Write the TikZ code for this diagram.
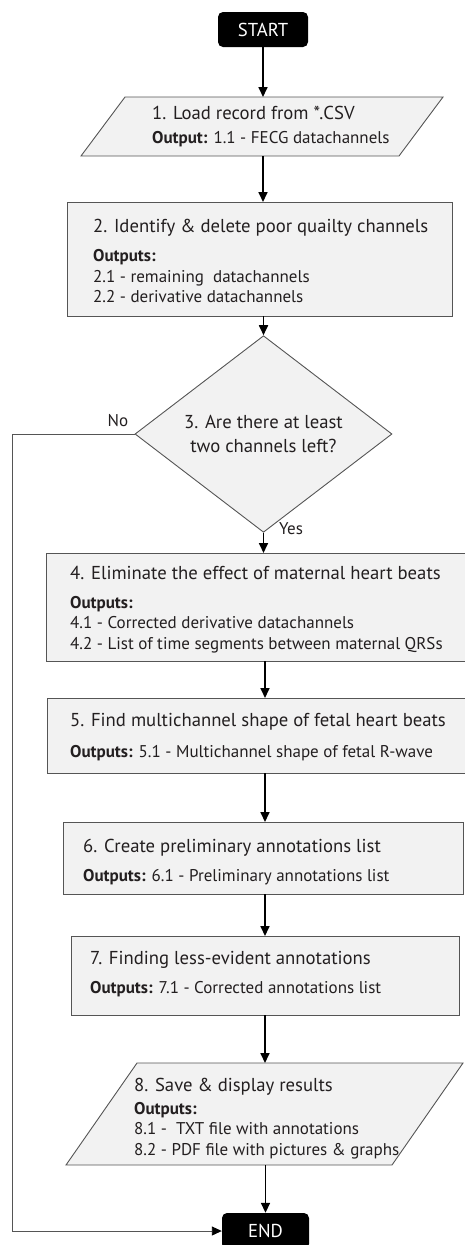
\documentclass[tikz,border=0pt]{standalone}
\usepackage{fontspec}
\setmainfont{PT Sans}
\usetikzlibrary{shapes.geometric,arrows.meta}
\definecolor{boxfill}{RGB}{242,242,242}
\definecolor{edgegray}{RGB}{85,85,85}
\definecolor{ink}{RGB}{35,31,32}
\newcommand{\ttlfont}{\fontsize{18.7}{20.5}\selectfont}
\newcommand{\bdyfont}{\fontsize{17}{20.5}\selectfont}
\begin{document}
\begin{tikzpicture}[x=1pt,y=-1pt,
  procbox/.style={draw=edgegray, line width=0.9pt, fill=boxfill, rectangle, inner sep=0pt, outer sep=0pt},
  ioframe/.style={draw=none, rectangle, inner sep=0pt, outer sep=0pt},
  iopath/.style={draw=edgegray, line width=0.9pt, fill=boxfill},
  txt/.style={align=left, inner sep=0pt, text=ink, font=\bdyfont, anchor=west},
  term/.style={fill=black, rounded corners=5pt, text=white, font=\ttlfont, inner sep=0pt},
  decision/.style={diamond, draw=edgegray, line width=0.9pt, fill=boxfill, inner sep=0pt, align=center, text=ink, font=\ttlfont},
  arr/.style={line width=1.7pt, -{Triangle[width=9pt,length=10pt]}},
  noarr/.style={draw=edgegray, line width=0.9pt, -{Triangle[width=9pt,length=10pt,color=black]}},
  lbl/.style={text=ink, font=\bdyfont, inner sep=0pt}
]
\useasboundingbox (0,0) rectangle (464,1245);

% START
\node[term, minimum width=90pt, minimum height=35pt] (start) at (263,29.5) {START};

% 1. parallelogram
\node[ioframe, minimum width=318pt, minimum height=59pt] (p1) at (262,126.5) {};
\draw[iopath] ([xshift=22pt]p1.north west) -- ([xshift=22pt]p1.north east)
  -- ([xshift=-22pt]p1.south east) -- ([xshift=-22pt]p1.south west) -- cycle;
\node[txt] (t1) at ([xshift=49pt,yshift=0pt]p1.west)
  {{\ttlfont 1. Load record from *.CSV}\\[3.5pt]\textbf{Output:} 1.1 - FECG datachannels};

% 2.
\node[procbox, minimum width=385pt, minimum height=114pt] (b2) at (259.5,259) {};
\node[txt] (t2) at ([xshift=26pt,yshift=-2pt]b2.west)
  {{\ttlfont 2. Identify \& delete poor quailty channels}\\[8.5pt]\textbf{Outputs:}\\2.1 - remaining\ \ datachannels\\2.2 - derivative datachannels};

% 3. decision
\node[decision, minimum width=257pt, minimum height=172pt] (d) at (263.5,434)
  {3. Are there at least\\[4pt]two channels left?};

% 4.
\node[procbox, minimum width=426pt, minimum height=108pt] (b4) at (259,607) {};
\node[txt] (t4) at ([xshift=24pt,yshift=-2.5pt]b4.west)
  {{\ttlfont 4. Eliminate the effect of maternal heart beats}\\[8.5pt]\textbf{Outputs:}\\4.1 - Corrected derivative datachannels\\4.2 - List of time segments between maternal QRSs};

% 5.
\node[procbox, minimum width=425pt, minimum height=75pt] (b5) at (259.5,735.5) {};
\node[txt] (t5) at ([xshift=23pt,yshift=-2pt]b5.west)
  {{\ttlfont 5. Find multichannel shape of fetal heart beats}\\[10.5pt]\textbf{Outputs:} 5.1 - Multichannel shape of fetal R-wave};

% 6.
\node[procbox, minimum width=400pt, minimum height=72pt] (b6) at (263,858) {};
\node[txt] (t6) at ([xshift=20pt,yshift=-4.5pt]b6.west)
  {{\ttlfont 6. Create preliminary annotations list}\\[8.5pt]\textbf{Outputs:} 6.1 - Preliminary annotations list};

% 7.
\node[procbox, minimum width=388pt, minimum height=79pt] (b7) at (265,975.5) {};
\node[txt] (t7) at ([xshift=19pt,yshift=1pt]b7.west)
  {{\ttlfont 7. Finding less-evident annotations}\\[8.5pt]\textbf{Outputs:} 7.1 - Corrected annotations list};

% 8. parallelogram
\node[ioframe, minimum width=326pt, minimum height=102pt] (p8) at (264.5,1114) {};
\draw[iopath] ([xshift=35.5pt]p8.north west) -- ([xshift=35.5pt]p8.north east)
  -- ([xshift=-35.5pt]p8.south east) -- ([xshift=-35.5pt]p8.south west) -- cycle;
\node[txt] (t8) at ([xshift=32.5pt,yshift=-4.5pt]p8.west)
  {{\ttlfont 8. Save \& display results}\\[2.5pt]\textbf{Outputs:}\\8.1 -\ \ TXT file with annotations\\8.2 - PDF file with pictures \& graphs};

% END
\node[term, minimum width=87pt, minimum height=36pt] (endn) at (265.5,1231) {END};

% labels
\node[lbl] (nolbl) at (118,421) {No};
\node[lbl] (yeslbl) at (291,529) {Yes};

% connectors
\draw[arr] (start.south) -- (start.south |- p1.north);
\draw[arr] (p1.south -| start) -- (b2.north -| start);
\draw[arr] (b2.south -| d) -- (d.north);
\draw[arr] (d.south) -- (d.south |- b4.north);
\draw[arr] (b4.south -| b7) -- (b5.north -| b7);
\draw[arr] (b5.south -| b7) -- (b6.north -| b7);
\draw[arr] (b6.south -| b7) -- (b7.north);
\draw[arr] (b7.south) -- (b7.south |- p8.north);
\draw[arr] (p8.south -| endn) -- (endn.north);
\coordinate (nocorner) at (12,434);
\draw[noarr] (d.west) -- (nocorner) |- (endn.west);
\end{tikzpicture}
\end{document}
